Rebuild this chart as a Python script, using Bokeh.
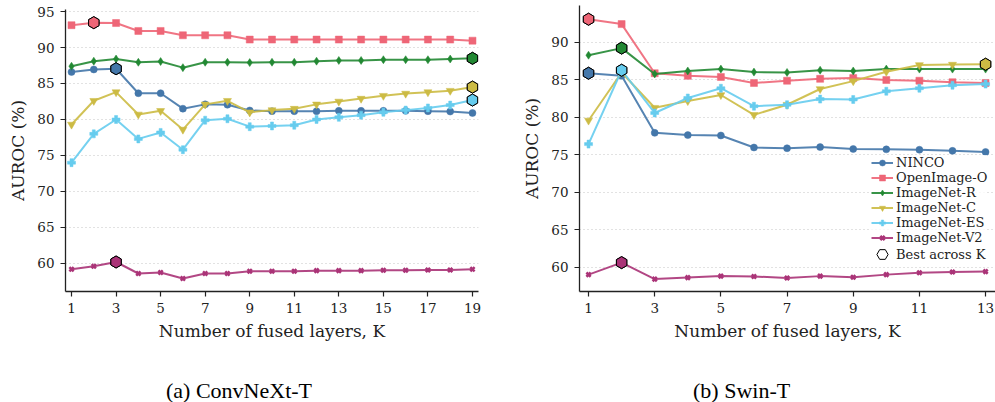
import numpy as np
from bokeh.plotting import figure
from bokeh.layouts import row, column
from bokeh.models import Legend, LegendItem, FixedTicker, Div
from bokeh.embed import file_html
from bokeh.resources import INLINE

# ---------------- data ----------------
series_names = ["NINCO", "OpenImage-O", "ImageNet-R", "ImageNet-C", "ImageNet-ES", "ImageNet-V2"]

k_convnext = list(range(1, 20))
convnext_ninco = [86.6, 86.95, 87.05, 83.65, 83.65, 81.5, 82.1, 82.05, 81.25, 81.15, 81.15, 81.15, 81.2, 81.2, 81.2, 81.2, 81.15, 81.1, 80.9]
convnext_openimage_o = [93.1, 93.45, 93.4, 92.3, 92.3, 91.7, 91.7, 91.7, 91.1, 91.1, 91.1, 91.1, 91.1, 91.1, 91.1, 91.1, 91.1, 91.1, 90.95]
convnext_imagenet_r = [87.4, 88.1, 88.4, 87.95, 88.05, 87.2, 87.95, 87.95, 87.9, 87.95, 87.95, 88.1, 88.2, 88.2, 88.3, 88.3, 88.3, 88.4, 88.5]
convnext_imagenet_c = [79.3, 82.6, 83.8, 80.7, 81.2, 78.6, 82.1, 82.6, 81.0, 81.3, 81.5, 82.1, 82.5, 82.9, 83.3, 83.6, 83.8, 84.0, 84.5]
convnext_imagenet_es = [74.0, 78.0, 80.0, 77.3, 78.2, 75.8, 79.9, 80.1, 79.0, 79.1, 79.2, 80.0, 80.3, 80.6, 81.0, 81.3, 81.6, 82.0, 82.7]
convnext_imagenet_v2 = [59.2, 59.6, 60.2, 58.6, 58.75, 57.9, 58.6, 58.6, 58.9, 58.9, 58.9, 59.0, 59.0, 59.0, 59.05, 59.05, 59.1, 59.1, 59.2]

k_swin = list(range(1, 14))
swin_ninco = [85.9, 85.55, 77.95, 77.65, 77.6, 76.0, 75.9, 76.05, 75.8, 75.75, 75.7, 75.55, 75.4]
swin_openimage_o = [93.1, 92.45, 85.9, 85.55, 85.4, 84.6, 84.9, 85.15, 85.25, 85.0, 84.9, 84.7, 84.6]
swin_imagenet_r = [88.3, 89.25, 85.8, 86.2, 86.45, 86.05, 86.0, 86.3, 86.2, 86.45, 86.45, 86.45, 86.45]
swin_imagenet_c = [79.6, 86.0, 81.3, 82.2, 83.0, 80.35, 81.7, 83.8, 84.85, 86.1, 87.0, 87.05, 87.1]
swin_imagenet_es = [76.45, 86.3, 80.6, 82.6, 83.9, 81.5, 81.7, 82.45, 82.4, 83.5, 83.9, 84.3, 84.45]
swin_imagenet_v2 = [59.05, 60.65, 58.45, 58.65, 58.85, 58.8, 58.6, 58.85, 58.7, 59.05, 59.3, 59.4, 59.45]

convnext_ticks_x = [1, 3, 5, 7, 9, 11, 13, 15, 17, 19]
convnext_ticks_y = [60, 65, 70, 75, 80, 85, 90, 95]
swin_ticks_x = [1, 3, 5, 7, 9, 11, 13]
swin_ticks_y = [60, 65, 70, 75, 80, 85, 90]

x_label = "Number of fused layers, K"
y_label = "AUROC (%)"
best_label = "Best across K"
caption_left = "(a) ConvNeXt-T"
caption_right = "(b) Swin-T"

# ---------------- styles ----------------
colors = ["#4477AA", "#EE6677", "#228833", "#CCBB44", "#66CCEE", "#AA3377"]
markers = ["circle", "square", "diamond", "inverted_triangle", "plus", "x"]
msizes = [7, 7, 8, 8, 8, 6]
SERIF = "DejaVu Serif"
AX = "#222222"
FIG_H = 362
FRAME_BOTTOM = 291


def make_panel(width, xr, yr, xticks, yticks, ks, ys, mb_left, mb_right, mb_top,
               legend=False):
    p = figure(width=width, height=FIG_H, x_range=xr, y_range=yr,
               output_backend="svg", toolbar_location=None,
               min_border_left=mb_left, min_border_right=mb_right,
               min_border_top=mb_top, min_border_bottom=FIG_H - FRAME_BOTTOM)
    p.outline_line_color = None
    p.background_fill_color = "white"
    p.border_fill_color = "white"
    p.xgrid.grid_line_color = None
    p.ygrid.grid_line_color = "#c4c4c4"
    p.ygrid.grid_line_dash = "1 3"
    p.ygrid.grid_line_width = 1
    p.xaxis.ticker = FixedTicker(ticks=xticks)
    p.yaxis.ticker = FixedTicker(ticks=yticks)
    for ax in (p.xaxis, p.yaxis):
        ax.axis_line_color = AX
        ax.axis_line_width = 1.3
        ax.major_tick_line_color = AX
        ax.major_tick_line_width = 1.2
        ax.major_tick_in = 0
        ax.major_tick_out = 5
        ax.minor_tick_line_color = None
        ax.major_label_text_font = SERIF
        ax.major_label_text_font_size = "13.5px"
        ax.major_label_text_color = AX
        ax.major_label_standoff = 6
        ax.axis_label_text_font = SERIF
        ax.axis_label_text_font_size = "17px"
        ax.axis_label_text_font_style = "normal"
        ax.axis_label_text_color = AX
    p.xaxis.axis_label = x_label
    p.yaxis.axis_label = y_label
    p.yaxis.axis_label_standoff = 6
    p.xaxis.axis_label_standoff = 5

    items = []
    for name, c, m, s, y in zip(series_names, colors, markers, msizes, ys):
        rl = p.line(ks, y, line_color=c, line_width=2, line_alpha=0.9)
        if m == "x":
            rs = p.scatter(ks, y, marker=m, size=s, line_color=c, line_width=2.5)
        else:
            rs = p.scatter(ks, y, marker=m, size=s, fill_color=c, line_color=c,
                           line_width=0.5)
        items.append(LegendItem(label=name, renderers=[rl, rs]))
    # best markers: white-filled base layer (used for the legend), colored on top
    best_x = [ks[int(np.argmax(y))] for y in ys]
    best_y = [max(y) for y in ys]
    rb = p.scatter(best_x, best_y, marker="hex", size=12, angle=np.pi / 6,
                   fill_color="white", line_color="black", line_width=1)
    p.scatter(best_x, best_y, marker="hex", size=12, angle=np.pi / 6,
              fill_color=colors, line_color="black", line_width=1)
    if legend:
        common = dict(label_text_font=SERIF, label_text_font_size="13px",
                      label_text_color=AX, border_line_color=None, margin=0)
        lg = Legend(items=items, location=(292, 46), label_height=15,
                    glyph_height=15, glyph_width=22, label_standoff=3,
                    spacing=0, padding=3, background_fill_color="white",
                    background_fill_alpha=0.8, **common)
        lg2 = Legend(items=[LegendItem(label=best_label, renderers=[rb])],
                     location=(289, 23), label_height=28, glyph_height=28,
                     glyph_width=28, label_standoff=0, spacing=0, padding=0,
                     background_fill_alpha=0, **common)
        p.add_layout(lg)
        p.add_layout(lg2)
    return p


def caption_div(text, width, pad_left):
    html = ('<div style="font-family: \'Liberation Serif\', serif; font-size: 22px; '
            'line-height: 22px; color: black; white-space: nowrap; '
            'padding-top: 18px; padding-left: %dpx;">%s</div>' % (pad_left, text))
    return Div(text=html, width=width, height=40, margin=0)


left = make_panel(510, (0.73, 19.27), (56.1, 95.28), convnext_ticks_x, convnext_ticks_y,
                  k_convnext,
                  [convnext_ninco, convnext_openimage_o, convnext_imagenet_r,
                   convnext_imagenet_c, convnext_imagenet_es, convnext_imagenet_v2],
                  65, 32, 9)
right = make_panel(485, (0.727, 13.3), (56.8, 94.93), swin_ticks_x, swin_ticks_y,
                   k_swin,
                   [swin_ninco, swin_openimage_o, swin_imagenet_r,
                    swin_imagenet_c, swin_imagenet_es, swin_imagenet_v2],
                   69, 0, 5, legend=True)

layout = row(column(left, caption_div(caption_left, 510, 166), spacing=0),
             column(right, caption_div(caption_right, 485, 183), spacing=0),
             spacing=0)
open("out.html", "w").write(file_html(layout, INLINE))
